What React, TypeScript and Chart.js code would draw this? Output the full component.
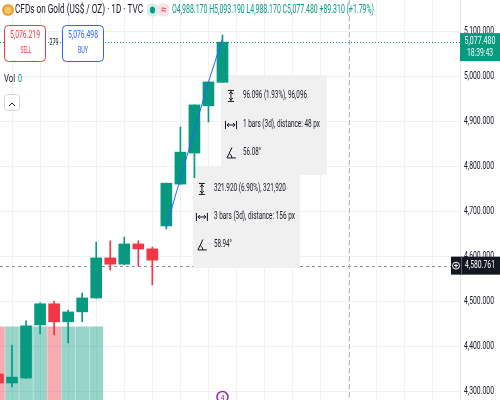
import React, { useEffect, useRef } from "react";
import { Chart, registerables } from "chart.js";

Chart.register(...registerables);

// ---- data ----
const barIndex = [0, 1, 2, 3, 4, 5, 6, 7, 8, 9, 10, 11, 12, 13, 14, 15, 16];
const opens = [4340, 4320, 4331, 4449, 4496, 4456, 4478, 4509, 4598, 4584, 4629, 4618, 4669, 4762, 4831, 4936, 4988.17];
const highs = [4342, 4404, 4458, 4498, 4502, 4482, 4520, 4633, 4636, 4644, 4636, 4622, 4764, 4889, 4938, 4990, 5093.19];
const lows = [4316, 4311, 4330, 4429, 4427, 4409, 4456, 4508, 4571, 4583, 4580, 4538, 4662, 4761, 4776, 4900, 4988.17];
const closes = [4320, 4333, 4447, 4496, 4456, 4478, 4509, 4598, 4584, 4629, 4618, 4593, 4764, 4833, 4938, 4989, 5077.48];

const volumeIndex = [0, 1, 2, 3, 4, 5, 6, 7];
const volumes = [18.3, 18.3, 18.3, 18.3, 18.3, 18.3, 18.3, 18.3];

const yTickValues = [4300, 4400, 4500, 4600, 4700, 4800, 4900, 5000, 5100];
const xGridIndex = [1, 3, 5, 7, 9, 11, 13, 15, 17, 19, 21, 23, 25, 27, 29, 31];

const trend1X = [12, 15];
const trend1Y = [4667, 4989];
const trend2X = [15, 16];
const trend2Y = [4989, 5085.1];

const measure1 = ["96.096 (1.93%), 96,096", "1 bars (3d), distance: 48 px", "56.08°"];
const measure2 = ["321.920 (6.90%), 321,920", "3 bars (3d), distance: 156 px", "58.94°"];

const crosshairIndex = 25;
const crosshairPrice = 4580.761;
const lastClose = 5077.48;
const lastTime = "18:39:43";
const sellPrice = "5,076.219";
const buyPrice = "5,076.498";
const spread = "279";
const title = "CFDs on Gold (US$ / OZ) · 1D · TVC";
const ohlcText = "O4,988.170 H5,093.190 L4,988.170 C5,077.480 +89.310 (+1.79%)";

const X_MIN = 0.1425;
const X_MAX = 32.93;
const Y_MIN = 4282.2;
const Y_MAX = 5171.1;

const UP = "#089981";
const DOWN = "#f23645";
const GRID = "#eef1f6";
const TEXT = "#131722";

function fmt(v: number) {
  return v.toLocaleString("en-US", { minimumFractionDigits: 3, maximumFractionDigits: 3 });
}

function txt(
  ctx: CanvasRenderingContext2D,
  s: string,
  x: number,
  y: number,
  size: number,
  color: string,
  align: CanvasTextAlign,
  w?: number,
  sx = 0.75
) {
  ctx.save();
  ctx.font = `${size}px Roboto`;
  ctx.fillStyle = color;
  ctx.textBaseline = "middle";
  ctx.textAlign = align;
  const m = ctx.measureText(s).width;
  const k = w ? w / m : sx;
  ctx.translate(x, y);
  ctx.scale(k, 1);
  ctx.fillText(s, 0, 0);
  ctx.restore();
}

function rr(ctx: CanvasRenderingContext2D, x: number, y: number, w: number, h: number, r: number) {
  ctx.beginPath();
  ctx.moveTo(x + r, y);
  ctx.lineTo(x + w - r, y);
  ctx.arcTo(x + w, y, x + w, y + r, r);
  ctx.lineTo(x + w, y + h - r);
  ctx.arcTo(x + w, y + h, x + w - r, y + h, r);
  ctx.lineTo(x + r, y + h);
  ctx.arcTo(x, y + h, x, y + h - r, r);
  ctx.lineTo(x, y + r);
  ctx.arcTo(x, y, x + r, y, r);
  ctx.closePath();
}

function line(ctx: CanvasRenderingContext2D, pts: number[][]) {
  ctx.beginPath();
  ctx.moveTo(pts[0][0], pts[0][1]);
  for (let i = 1; i < pts.length; i++) ctx.lineTo(pts[i][0], pts[i][1]);
  ctx.stroke();
}

function iconPrice(ctx: CanvasRenderingContext2D, x: number, y: number) {
  ctx.save();
  ctx.strokeStyle = TEXT;
  ctx.lineWidth = 1;
  line(ctx, [[x - 3, y - 5.5], [x + 3, y - 5.5]]);
  line(ctx, [[x - 3, y + 5.5], [x + 3, y + 5.5]]);
  line(ctx, [[x, y - 5], [x, y + 5]]);
  line(ctx, [[x - 2, y - 2], [x, y - 4], [x + 2, y - 2]]);
  line(ctx, [[x - 2, y + 2], [x, y + 4], [x + 2, y + 2]]);
  ctx.restore();
}

function iconBars(ctx: CanvasRenderingContext2D, x: number, y: number) {
  ctx.save();
  ctx.strokeStyle = TEXT;
  ctx.lineWidth = 1;
  line(ctx, [[x - 5.5, y - 4], [x - 5.5, y + 4]]);
  line(ctx, [[x + 5.5, y - 4], [x + 5.5, y + 4]]);
  line(ctx, [[x - 4, y], [x + 4, y]]);
  line(ctx, [[x - 2, y - 2], [x - 4, y], [x - 2, y + 2]]);
  line(ctx, [[x + 2, y - 2], [x + 4, y], [x + 2, y + 2]]);
  ctx.restore();
}

function iconAngle(ctx: CanvasRenderingContext2D, x: number, y: number) {
  ctx.save();
  ctx.strokeStyle = TEXT;
  ctx.lineWidth = 1;
  line(ctx, [[x + 1, y - 5.5], [x - 4, y + 5], [x + 5, y + 5]]);
  ctx.beginPath();
  ctx.arc(x - 4, y + 5, 5, -1.1, 0);
  ctx.stroke();
  ctx.restore();
}

const overlay = {
  id: "overlay",
  beforeDatasetsDraw(chart: any) {
    const ctx: CanvasRenderingContext2D = chart.ctx;
    const xs = chart.scales.x;
    const ys = chart.scales.y;
    const ca = chart.chartArea;
    ctx.save();
    // last close dotted line
    const yc = ys.getPixelForValue(lastClose);
    ctx.strokeStyle = UP;
    ctx.lineWidth = 1;
    ctx.setLineDash([1, 2]);
    line(ctx, [[0, Math.round(yc) + 0.5], [ca.right, Math.round(yc) + 0.5]]);
    // crosshair
    const yh = Math.round(ys.getPixelForValue(crosshairPrice)) + 0.5;
    ctx.strokeStyle = "#8a8d96";
    ctx.setLineDash([3, 3]);
    line(ctx, [[0, yh], [ca.right, yh]]);
    const xv = Math.round(xs.getPixelForValue(crosshairIndex)) + 0.5;
    ctx.strokeStyle = "#b8bbc3";
    ctx.setLineDash([5, 3]);
    line(ctx, [[xv, 0], [xv, ca.bottom]]);
    ctx.setLineDash([]);

    // measure boxes
    const b1x = xs.getPixelForValue(trend2X[1]) - 1.5;
    const b1y = ys.getPixelForValue(trend2Y[0]) - 7;
    const b2x = xs.getPixelForValue(trend1X[1] - 1) - 1.5;
    const b2y = b1y + 92;
    ctx.fillStyle = "#f0f0f0";
    ctx.fillRect(b1x, b1y, 106, 100);
    ctx.fillRect(b2x, b2y, 107, 101);

    iconPrice(ctx, b1x + 10, b1y + 21);
    iconBars(ctx, b1x + 10, b1y + 50);
    iconAngle(ctx, b1x + 10, b1y + 78);
    txt(ctx, measure1[0], b1x + 22, b1y + 21, 10, TEXT, "left", 64);
    txt(ctx, measure1[1], b1x + 22, b1y + 50, 10, TEXT, "left", 77);
    txt(ctx, measure1[2], b1x + 22, b1y + 78, 10, TEXT, "left", 18);

    iconPrice(ctx, b2x + 9, b2y + 22);
    iconBars(ctx, b2x + 9, b2y + 50);
    iconAngle(ctx, b2x + 9, b2y + 78);
    txt(ctx, measure2[0], b2x + 21, b2y + 22, 10, TEXT, "left", 72);
    txt(ctx, measure2[1], b2x + 21, b2y + 50, 10, TEXT, "left", 81);
    txt(ctx, measure2[2], b2x + 21, b2y + 78, 10, TEXT, "left", 18);
    ctx.restore();
  },
  afterDraw(chart: any) {
    const ctx: CanvasRenderingContext2D = chart.ctx;
    const xs = chart.scales.x;
    const ys = chart.scales.y;
    const ca = chart.chartArea;
    ctx.save();

    // price axis labels
    yTickValues.forEach((v) => {
      const y = ys.getPixelForValue(v);
      txt(ctx, fmt(v), 479, y, 10, TEXT, "center", 30);
    });

    // last price label
    const yc = ys.getPixelForValue(lastClose);
    ctx.fillStyle = UP;
    ctx.fillRect(ca.right, yc - 9, 500 - ca.right, 28);
    txt(ctx, fmt(lastClose), 480, yc - 1, 10, "#ffffff", "center", 31);
    txt(ctx, lastTime, 480, yc + 11, 10, "#ffffff", "center", 26);

    // crosshair label
    const yh = ys.getPixelForValue(crosshairPrice);
    ctx.fillStyle = TEXT;
    ctx.fillRect(451, yh - 9, 49, 18);
    ctx.strokeStyle = "#ffffff";
    ctx.lineWidth = 1;
    ctx.beginPath();
    ctx.arc(456, yh, 3.5, 0, Math.PI * 2);
    ctx.stroke();
    line(ctx, [[454, yh], [458, yh]]);
    line(ctx, [[456, yh - 2], [456, yh + 2]]);
    ctx.strokeStyle = "#555a66";
    line(ctx, [[461.5, yh - 9], [461.5, yh + 9]]);
    txt(ctx, fmt(crosshairPrice), 480, yh, 10, "#ffffff", "center", 30);

    // event marker
    const ex = xs.getPixelForValue(barIndex[16]);
    ctx.fillStyle = "#ffffff";
    ctx.strokeStyle = "#9c27b0";
    ctx.lineWidth = 1.5;
    ctx.beginPath();
    ctx.arc(ex, 397, 5.5, 0, Math.PI * 2);
    ctx.fill();
    ctx.stroke();
    txt(ctx, "4", ex, 398, 8, "#9c27b0", "center", undefined, 0.9);

    // header
    ctx.fillStyle = "#e9a23b";
    ctx.beginPath();
    ctx.arc(8, 10, 6, 0, Math.PI * 2);
    ctx.fill();
    ctx.fillStyle = "#f6c86a";
    ctx.beginPath();
    ctx.arc(8, 10, 3.5, 0, Math.PI * 2);
    ctx.fill();
    txt(ctx, title, 15, 10, 12, TEXT, "left", 128);
    ctx.fillStyle = "#d7f0ea";
    rr(ctx, 147, 3.5, 11, 13, 4);
    ctx.fill();
    ctx.fillStyle = UP;
    ctx.beginPath();
    ctx.ellipse(152.5, 10, 2.5, 3.5, 0, 0, Math.PI * 2);
    ctx.fill();
    ctx.fillStyle = "#fde3e6";
    rr(ctx, 158, 3.5, 11, 13, 4);
    ctx.fill();
    txt(ctx, "≈", 163.5, 10, 11, DOWN, "center", undefined, 0.9);
    txt(ctx, ohlcText, 172, 10, 12, UP, "left", 202);

    // sell / buy
    ctx.fillStyle = "#ffffff";
    ctx.lineWidth = 1;
    rr(ctx, 4.5, 25.5, 41, 36, 4);
    ctx.fill();
    ctx.strokeStyle = DOWN;
    ctx.stroke();
    txt(ctx, sellPrice, 25, 35, 11, DOWN, "center", 30);
    txt(ctx, "SELL", 26, 51, 9, DOWN, "center", 11);
    txt(ctx, spread, 54, 43, 9, TEXT, "center", 9);
    rr(ctx, 62.5, 25.5, 41, 36, 4);
    ctx.fillStyle = "#ffffff";
    ctx.fill();
    ctx.strokeStyle = "#2962ff";
    ctx.stroke();
    txt(ctx, buyPrice, 83, 35, 11, "#2962ff", "center", 30);
    txt(ctx, "BUY", 83, 51, 9, "#2962ff", "center", 10);

    // vol
    txt(ctx, "Vol", 4, 79, 11, TEXT, "left", 11);
    txt(ctx, "0", 18, 79, 11, UP, "left", 4);

    // collapse button
    rr(ctx, 4.5, 94.5, 15, 16, 3);
    ctx.fillStyle = "#ffffff";
    ctx.fill();
    ctx.strokeStyle = "#d1d4dc";
    ctx.stroke();
    ctx.strokeStyle = TEXT;
    line(ctx, [[9, 106], [12, 103], [15, 106]]);

    ctx.restore();
  },
};

export default function App() {
  const ref = useRef<HTMLCanvasElement | null>(null);

  useEffect(() => {
    if (!ref.current) return;
    const colors = barIndex.map((_, i) => (closes[i] >= opens[i] ? UP : DOWN));
    const volColors = volumeIndex.map((i) =>
      closes[i] >= opens[i] ? "rgba(8,153,129,0.42)" : "rgba(242,54,69,0.42)"
    );
    const chart = new Chart(ref.current, {
      type: "bar",
      data: {
        datasets: [
          {
            type: "line",
            data: trend1X.map((x, i) => ({ x, y: trend1Y[i] })),
            borderColor: "#2962ff",
            borderWidth: 1,
            pointRadius: 0,
            order: 0,
          } as any,
          {
            type: "line",
            data: trend2X.map((x, i) => ({ x, y: trend2Y[i] })),
            borderColor: "#2962ff",
            borderWidth: 1,
            pointRadius: 0,
            order: 0,
          } as any,
          {
            type: "bar",
            data: barIndex.map((x, i) => ({ x, y: [opens[i], closes[i]] })),
            backgroundColor: colors,
            barThickness: 11,
            grouped: false,
            order: 1,
          } as any,
          {
            type: "bar",
            data: barIndex.map((x, i) => ({ x, y: [lows[i], highs[i]] })),
            backgroundColor: colors,
            barThickness: 1,
            grouped: false,
            order: 2,
          } as any,
          {
            type: "bar",
            data: volumeIndex.map((x, i) => ({ x, y: volumes[i] })),
            backgroundColor: volColors,
            barThickness: 13,
            grouped: false,
            order: 5,
            yAxisID: "yv",
          } as any,
        ],
      },
      options: {
        animation: false,
        responsive: false,
        maintainAspectRatio: false,
        events: [],
        layout: { padding: 0 },
        plugins: { legend: { display: false }, tooltip: { enabled: false } },
        scales: {
          x: {
            type: "linear",
            min: X_MIN,
            max: X_MAX,
            offset: false,
            position: "bottom",
            ticks: { display: false },
            grid: { color: GRID, drawTicks: false, offset: false },
            border: { display: false },
            afterBuildTicks: (s: any) => {
              s.ticks = xGridIndex.map((v) => ({ value: v }));
            },
            afterFit: (s: any) => {
              s.height = 0;
            },
          },
          y: {
            type: "linear",
            position: "right",
            min: Y_MIN,
            max: Y_MAX,
            ticks: { display: false },
            grid: { color: GRID, drawTicks: false },
            border: { display: true, color: "#e6e8ee" },
            afterBuildTicks: (s: any) => {
              s.ticks = yTickValues.map((v) => ({ value: v }));
            },
            afterFit: (s: any) => {
              s.width = 40;
            },
          },
          yv: { type: "linear", display: false, min: 0, max: 100 },
        },
      } as any,
      plugins: [overlay],
    });
    return () => chart.destroy();
  }, []);

  return (
    <div style={{ position: "fixed", left: 0, top: 0, width: 500, height: 400, background: "#ffffff" }}>
      <canvas ref={ref} width={500} height={400} style={{ width: 500, height: 400, display: "block" }} />
    </div>
  );
}
